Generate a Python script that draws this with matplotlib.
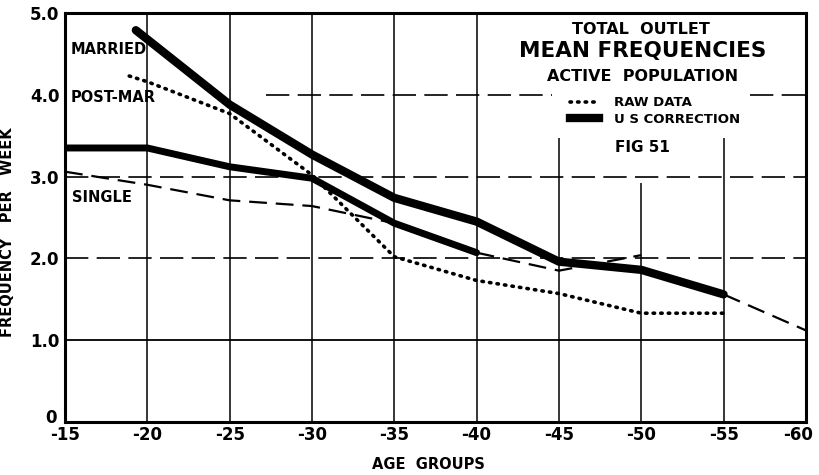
import numpy as np
import matplotlib
matplotlib.use("Agg")
import matplotlib.pyplot as plt
from matplotlib.lines import Line2D
from matplotlib.transforms import ScaledTranslation

# age groups on the x axis
age_ticks = [15, 20, 25, 30, 35, 40, 45, 50, 55, 60]
age_labels = ["-15", "-20", "-25", "-30", "-35", "-40", "-45", "-50", "-55", "-60"]
freq_ticks = [0, 1, 2, 3, 4, 5]
freq_labels = ["0", "1.0", "2.0", "3.0", "4.0", "5.0"]

# married, U.S. correction (heavy line)
married_ages = [19.3, 25, 30, 35, 40, 45, 50, 55]
married_freq = [4.79, 3.88, 3.27, 2.74, 2.45, 1.96, 1.86, 1.56]
married_ext_ages = [55, 60]
married_ext_freq = [1.56, 1.12]

# single, U.S. correction (heavy line) and dashed curves
single_ages = [15, 20, 25, 30, 35, 40]
single_freq = [3.35, 3.35, 3.12, 2.98, 2.43, 2.07]
single_dash_ages = [15, 20, 25, 30, 35]
single_dash_freq = [3.06, 2.90, 2.71, 2.64, 2.43]
single_ext_ages = [40, 45, 50]
single_ext_freq = [2.07, 1.85, 2.04]

# post-marital, raw data (dotted)
postmar_ages = [18.9, 20, 25, 30, 35, 40, 45, 50, 55]
postmar_freq = [4.23, 4.16, 3.77, 3.02, 2.02, 1.73, 1.57, 1.33, 1.33]

fig = plt.figure(figsize=(8.19, 4.75), dpi=100)
ax = fig.add_axes([0.0794, 0.1116, 0.9046, 0.861])
ax.set_xlim(15, 60)
ax.set_ylim(0, 5)

# grid drawn by hand so the title corner can stay open
grid_top = [5, 5, 5, 5, 5, 3.47, 2.92, 3.47]
dash = (0, (14, 5))
ax.vlines(age_ticks[1:-1], 0, grid_top, color="black", lw=1.1, zorder=1)
ax.axhline(1, color="black", lw=1.3, zorder=1)
for yv in [2, 3]:
    ax.axhline(yv, color="black", lw=1.2, ls=dash, zorder=1)
ax.hlines(4, 27.2, 44.6, color="black", lw=1.2, ls=dash, zorder=1)
ax.hlines(4, 56.6, 60, color="black", lw=1.2, ls=dash, zorder=1)

ax.plot(married_ages, married_freq, color="black", lw=6.0, solid_capstyle="round", zorder=4)
ax.plot(married_ext_ages, married_ext_freq, color="black", lw=1.6, ls=(0, (8, 4)), zorder=3)
ax.plot(single_ages, single_freq, color="black", lw=5.0, solid_capstyle="round", zorder=4)
ax.plot(single_dash_ages, single_dash_freq, color="black", lw=1.6, ls=(0, (8, 4)), zorder=3)
ax.plot(single_ext_ages, single_ext_freq, color="black", lw=1.6, ls=(0, (8, 4)), zorder=3)
ax.plot(postmar_ages, postmar_freq, color="black", lw=2.6, ls=(0, (0.4, 1.7)),
        dash_capstyle="round", zorder=3)

ax.set_xticks(age_ticks)
ax.set_xticklabels(age_labels, fontsize=12, fontweight="bold")
ax.set_yticks(freq_ticks)
ax.set_yticklabels(freq_labels, fontsize=12, fontweight="bold")
ax.tick_params(length=0, pad=4)
ax.tick_params(axis="x", pad=3)
for sp in ax.spines.values():
    sp.set_linewidth(2.2)
# pull the end labels in a little so they stay inside the picture
xl = ax.get_xticklabels()
xl[-1].set_transform(xl[-1].get_transform() + ScaledTranslation(-6 / 72, 0, fig.dpi_scale_trans))
yl = ax.get_yticklabels()
yl[0].set_transform(yl[0].get_transform() + ScaledTranslation(-2 / 72, 4 / 72, fig.dpi_scale_trans))

ax.set_xlabel("AGE  GROUPS", fontsize=10.5, fontweight="bold")
ax.xaxis.set_label_coords(0.49, -0.085)
ax.set_ylabel("FREQUENCY   PER   WEEK", fontsize=10.5, fontweight="bold")
ax.yaxis.set_label_coords(-0.068, 0.465)

# curve names
ax.text(15.35, 4.55, "MARRIED", fontsize=10.5, fontweight="bold", va="center")
ax.text(15.35, 3.97, "POST-MAR", fontsize=10.5, fontweight="bold", va="center")
ax.text(15.45, 2.75, "SINGLE", fontsize=10.5, fontweight="bold", va="center")

# title block
ax.text(50.0, 4.80, "TOTAL  OUTLET", fontsize=11.5, fontweight="bold", ha="center", va="center")
ax.text(50.1, 4.54, "MEAN FREQUENCIES", fontsize=15.5, fontweight="heavy", ha="center", va="center")
ax.text(50.1, 4.22, "ACTIVE  POPULATION", fontsize=11.5, fontweight="bold", ha="center", va="center")
ax.text(50.1, 3.35, "FIG 51", fontsize=11, fontweight="bold", ha="center", va="center")

handles = [Line2D([], [], color="black", lw=2.6, ls=(0, (0.4, 1.7)), dash_capstyle="round"),
           Line2D([], [], color="black", lw=6.0)]
leg = ax.legend(handles, ["RAW DATA", "U S CORRECTION"], loc="upper left",
                bbox_to_anchor=(0.665, 0.825), frameon=False, handlelength=2.2,
                handletextpad=1.2, labelspacing=0.25,
                prop={"size": 9.5, "weight": "bold"})

fig.savefig("out.png", dpi=100)
